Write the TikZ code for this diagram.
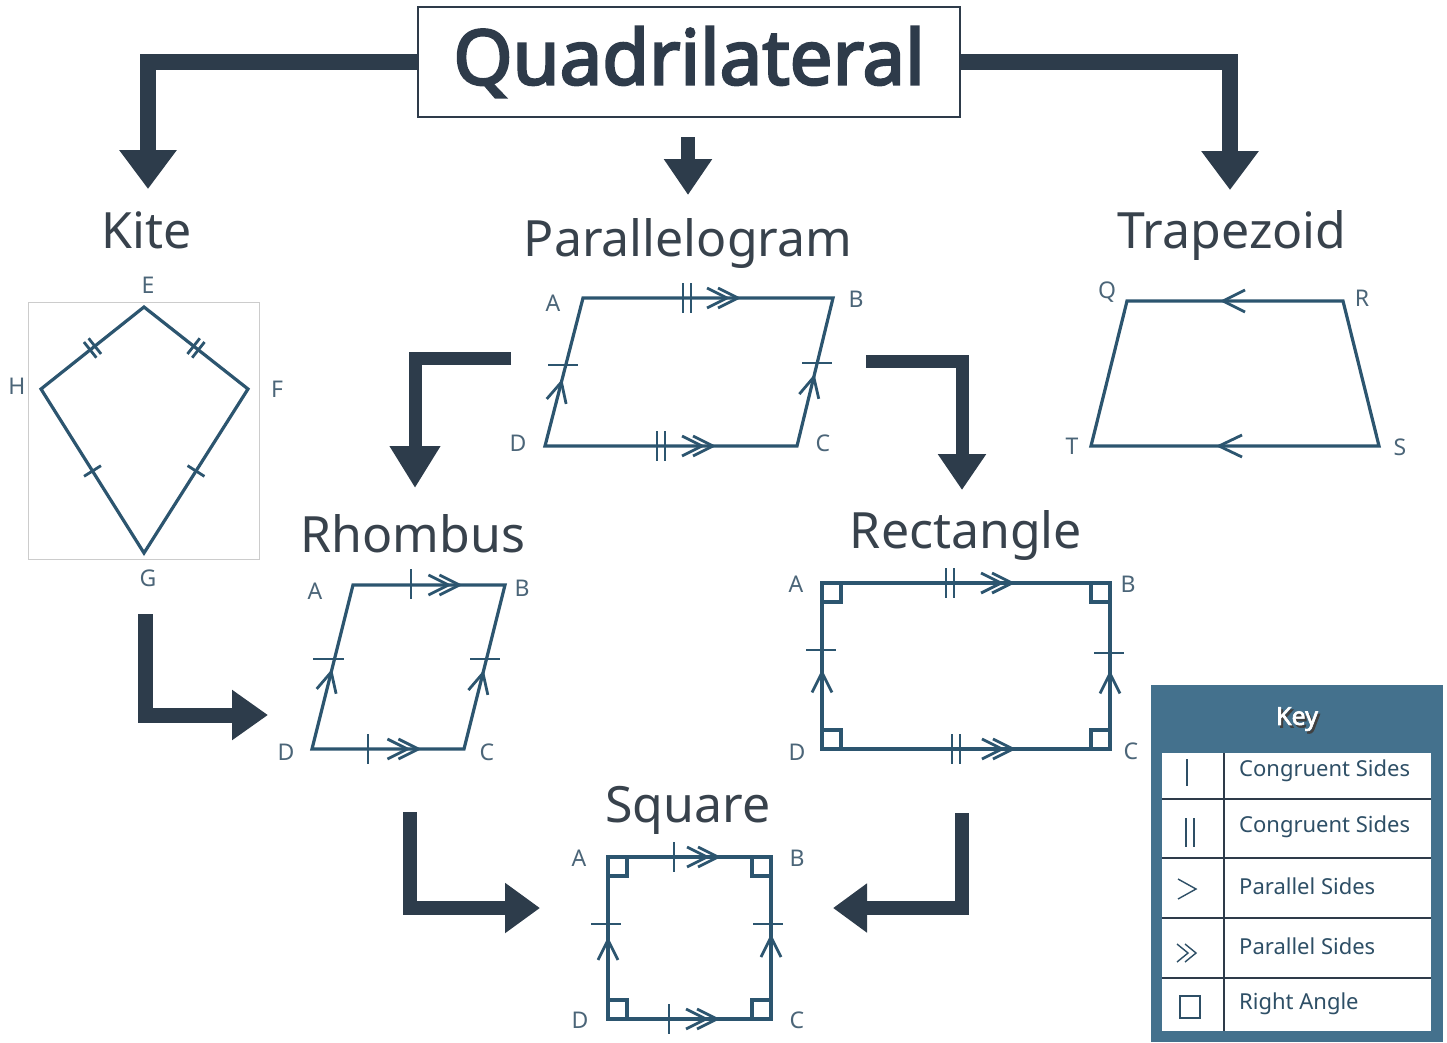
\documentclass[tikz,border=0pt]{standalone}
\usepackage{fontspec}
\setmainfont{Noto Sans}
\newfontfamily\titlefont{Noto Sans}[FakeBold=3.2]
\newfontfamily\keyfont{Noto Sans}[FakeBold=2.5]
\usetikzlibrary{arrows.meta,decorations.markings,calc}
\definecolor{arrowc}{HTML}{2D3C4B}
\definecolor{titlec}{HTML}{2E3B4A}
\definecolor{headc}{HTML}{38424C}
\definecolor{shpc}{HTML}{2C556F}
\definecolor{labc}{HTML}{4B6578}
\definecolor{keybg}{HTML}{44718D}
\definecolor{keytext}{HTML}{2E4F66}
\definecolor{keyline}{HTML}{2E3B4A}
\begin{document}
\begin{tikzpicture}[x=1pt,y=-1pt,
  shp/.style={draw=shpc,line width=3.2pt,line join=miter},
  shpline/.style={draw=shpc,line width=2.8pt},
  chevat/.style={postaction={decorate,decoration={markings,mark=at position #1 with {\draw[shpline] (-20,-10) -- (0,0) -- (-20,10);}}}},
  dchevat/.style={postaction={decorate,decoration={markings,mark=at position #1 with {\draw[shpline] (-20,-10) -- (0,0) -- (-20,10); \draw[shpline] (-31,-10) -- (-11,0) -- (-31,10);}}}},
  tickat/.style={postaction={decorate,decoration={markings,mark=at position #1 with {\draw[shpline] (0,-10) -- (0,10);}}}},
  dtickat/.style={postaction={decorate,decoration={markings,mark=at position #1 with {\draw[shpline] (-3,-10) -- (-3,10); \draw[shpline] (3,-10) -- (3,10);}}}},
  bigarrow/.style={draw=arrowc,line width=#1,line join=miter},
  heading/.style={font=\fontsize{50}{60}\selectfont,text=headc,anchor=base,inner sep=0},
  vlab/.style={font=\fontsize{23}{28}\selectfont,text=labc,inner sep=0},
  keytxt/.style={font=\fontsize{22}{26}\selectfont,text=keytext,anchor=west,inner sep=0},
  keysym/.style={draw=keytext,line width=1.4pt},
  keyrule/.style={draw=keyline,line width=2pt}
]
\useasboundingbox (0,0) rectangle (1447,1042);

% ---------- title ----------
\node[draw=titlec,line width=2.5pt,minimum width=542pt,minimum height=110pt,inner sep=0,
      font=\titlefont\fontsize{76}{84}\selectfont,text=titlec] (title) at (689,62) {Quadrilateral};

% ---------- headings ----------
\node[heading] (kite) at (147,248) {Kite};
\node[heading] (para) at (688,256) {Parallelogram};
\node[heading] (trap) at (1232,248) {Trapezoid};
\node[heading] (rhom) at (413,552) {Rhombus};
\node[heading] (rect) at (966,548) {Rectangle};
\node[heading] (squa) at (688,822) {Square};

% ---------- big arrows ----------
\coordinate (k1) at (148,189);
\coordinate (t1) at (1230,190);
\coordinate (m0) at (688,137);
\coordinate (m1) at (688,195);
\coordinate (pr0) at (511,358);
\coordinate (pr1) at (415,488);
\coordinate (pe0) at (866,361);
\coordinate (pe1) at (962,490);
\coordinate (kr0) at (145,614);
\coordinate (kr1) at (268,715);
\coordinate (rs0) at (410,812);
\coordinate (rs1) at (540,908);
\coordinate (es0) at (962,813);
\coordinate (es1) at (833,908);
\draw[bigarrow=16pt,-{Triangle[length=39pt,width=55pt]}] (title.west) -| (k1);
\draw[bigarrow=16pt,-{Triangle[length=39pt,width=55pt]}] (title.east) -| (t1);
\draw[bigarrow=14pt,-{Triangle[length=36pt,width=46pt]}] (m0) -- (m1);
\draw[bigarrow=13pt,-{Triangle[length=42pt,width=48pt]}] (pr0) -| (pr1);
\draw[bigarrow=13pt,-{Triangle[length=36pt,width=46pt]}] (pe0) -| (pe1);
\draw[bigarrow=15pt,-{Triangle[length=36pt,width=48pt]}] (kr0) |- (kr1);
\draw[bigarrow=14pt,-{Triangle[length=35pt,width=48pt]}] (rs0) |- (rs1);
\draw[bigarrow=14pt,-{Triangle[length=34pt,width=47pt]}] (es0) |- (es1);

% ---------- kite ----------
\draw[draw=black!20,line width=1pt] (28,302) rectangle (259,559);
\coordinate (kE) at (144,307);
\coordinate (kF) at (248,389);
\coordinate (kG) at (144,553);
\coordinate (kH) at (41,389);
\draw[shp] (kE) -- (kF) -- (kG) -- (kH) -- cycle;
\path[dtickat=0.5] (kH) -- (kE);
\path[dtickat=0.5] (kE) -- (kF);
\path[tickat=0.5] (kH) -- (kG);
\path[tickat=0.5] (kF) -- (kG);
\node[vlab] (lE) at (148,285) {E};
\node[vlab] (lF) at (277,389) {F};
\node[vlab] (lG) at (148,578) {G};
\node[vlab] (lH) at (17,386) {H};

% ---------- parallelogram ----------
\coordinate (pA) at (583,298);
\coordinate (pB) at (833,298);
\coordinate (pC) at (797,446);
\coordinate (pD) at (545,446);
\draw[shp] (pA) -- (pB) -- (pC) -- (pD) -- cycle;
\path[dchevat=0.62] (pA) -- (pB);
\path[dchevat=0.667] (pD) -- (pC);
\path[chevat=0.432] (pD) -- (pA);
\path[chevat=0.466] (pC) -- (pB);
\draw[shpline] (683,283) -- (683,313) (691,283) -- (691,313);
\draw[shpline] (657,431) -- (657,461) (665,431) -- (665,461);
\draw[shpline] (548,365) -- (578,365);
\draw[shpline] (802,363) -- (832,363);
\node[vlab] (lpA) at (553,303) {A};
\node[vlab] (lpB) at (856,299) {B};
\node[vlab] (lpC) at (823,443) {C};
\node[vlab] (lpD) at (518,443) {D};

% ---------- trapezoid ----------
\coordinate (tQ) at (1127,301);
\coordinate (tR) at (1343,301);
\coordinate (tS) at (1379,446);
\coordinate (tT) at (1091,446);
\draw[shp] (tQ) -- (tR) -- (tS) -- (tT) -- cycle;
\draw[shpline] (1245,290) -- (1223,301) -- (1245,312);
\draw[shpline] (1242,435) -- (1219,446) -- (1242,457);
\node[vlab] (lQ) at (1107,292) {Q};
\node[vlab] (lR) at (1362,298) {R};
\node[vlab] (lS) at (1400,447) {S};
\node[vlab] (lT) at (1072,446) {T};

% ---------- rhombus ----------
\coordinate (rA) at (353,585);
\coordinate (rB) at (505,585);
\coordinate (rC) at (464,749);
\coordinate (rD) at (312,749);
\draw[shp] (rA) -- (rB) -- (rC) -- (rD) -- cycle;
\path[dchevat=0.70] (rA) -- (rB);
\path[dchevat=0.70] (rD) -- (rC);
\path[chevat=0.47] (rD) -- (rA);
\path[chevat=0.463] (rC) -- (rB);
\draw[shpline] (411,569) -- (411,599);
\draw[shpline] (368,734) -- (368,764);
\draw[shpline] (313,659) -- (344,659);
\draw[shpline] (470,659) -- (500,659);
\node[vlab] (lrA) at (315,591) {A};
\node[vlab] (lrB) at (522,588) {B};
\node[vlab] (lrC) at (487,752) {C};
\node[vlab] (lrD) at (286,752) {D};

% ---------- rectangle ----------
\coordinate (eA) at (822,583);
\coordinate (eB) at (1110,583);
\coordinate (eC) at (1110,749);
\coordinate (eD) at (822,749);
\draw[shp] (eA) -- (eB) -- (eC) -- (eD) -- cycle;
\draw[shp] (822,583) rectangle (841,602);
\draw[shp] (1091,583) rectangle (1110,602);
\draw[shp] (1091,730) rectangle (1110,749);
\draw[shp] (822,730) rectangle (841,749);
\path[dchevat=0.66] (eA) -- (eB);
\path[dchevat=0.663] (eD) -- (eC);
\path[chevat=0.461] (eD) -- (eA);
\path[chevat=0.455] (eC) -- (eB);
\draw[shpline] (946,568) -- (946,598) (954,568) -- (954,598);
\draw[shpline] (952,734) -- (952,764) (960,734) -- (960,764);
\draw[shpline] (806,650) -- (836,650);
\draw[shpline] (1094,653) -- (1124,653);
\node[vlab] (leA) at (796,584) {A};
\node[vlab] (leB) at (1128,584) {B};
\node[vlab] (leC) at (1131,751) {C};
\node[vlab] (leD) at (797,752) {D};

% ---------- square ----------
\coordinate (sA) at (608,857);
\coordinate (sB) at (771,857);
\coordinate (sC) at (771,1019);
\coordinate (sD) at (608,1019);
\draw[shp] (sA) -- (sB) -- (sC) -- (sD) -- cycle;
\draw[shp] (608,857) rectangle (627,876);
\draw[shp] (752,857) rectangle (771,876);
\draw[shp] (752,1000) rectangle (771,1019);
\draw[shp] (608,1000) rectangle (627,1019);
\path[dchevat=0.675] (sA) -- (sB);
\path[dchevat=0.669] (sD) -- (sC);
\path[chevat=0.488] (sD) -- (sA);
\path[chevat=0.506] (sC) -- (sB);
\draw[shpline] (674,842) -- (674,872);
\draw[shpline] (669,1004) -- (669,1034);
\draw[shpline] (591,924) -- (621,924);
\draw[shpline] (753,924) -- (783,924);
\node[vlab] (lsA) at (579,858) {A};
\node[vlab] (lsB) at (797,858) {B};
\node[vlab] (lsC) at (797,1020) {C};
\node[vlab] (lsD) at (580,1020) {D};

% ---------- key ----------
\fill[keybg] (1151,685) rectangle (1443,1042);
\fill[white] (1162,753) rectangle (1431,1031);
\node[font=\keyfont\fontsize{25}{30}\selectfont,text=black!75,inner sep=0] (keyshadow) at (1299,721.5) {Key};
\node[font=\keyfont\fontsize{25}{30}\selectfont,text=white,inner sep=0] (keytitle) at (1297,719) {Key};
\draw[keyrule] (1162,799) -- (1431,799);
\draw[keyrule] (1162,858) -- (1431,858);
\draw[keyrule] (1162,918) -- (1431,918);
\draw[keyrule] (1162,978) -- (1431,978);
\draw[keyrule] (1224,753) -- (1224,1031);
\draw[keysym] (1187,759) -- (1187,786);
\draw[keysym] (1186,818) -- (1186,847) (1194,818) -- (1194,847);
\draw[keysym] (1178,879) -- (1196,889) -- (1178,899);
\draw[keysym] (1177,944) -- (1188,953) -- (1177,962) (1185,944) -- (1196,953) -- (1185,962);
\draw[keysym] (1180,996) rectangle (1200,1018);
\node[keytxt] (k1t) at (1239,771) {Congruent Sides};
\node[keytxt] (k2t) at (1239,827) {Congruent Sides};
\node[keytxt] (k3t) at (1239,886) {Parallel Sides};
\node[keytxt] (k4t) at (1239,946) {Parallel Sides};
\node[keytxt] (k5t) at (1239,1004) {Right Angle};
\end{tikzpicture}
\end{document}
